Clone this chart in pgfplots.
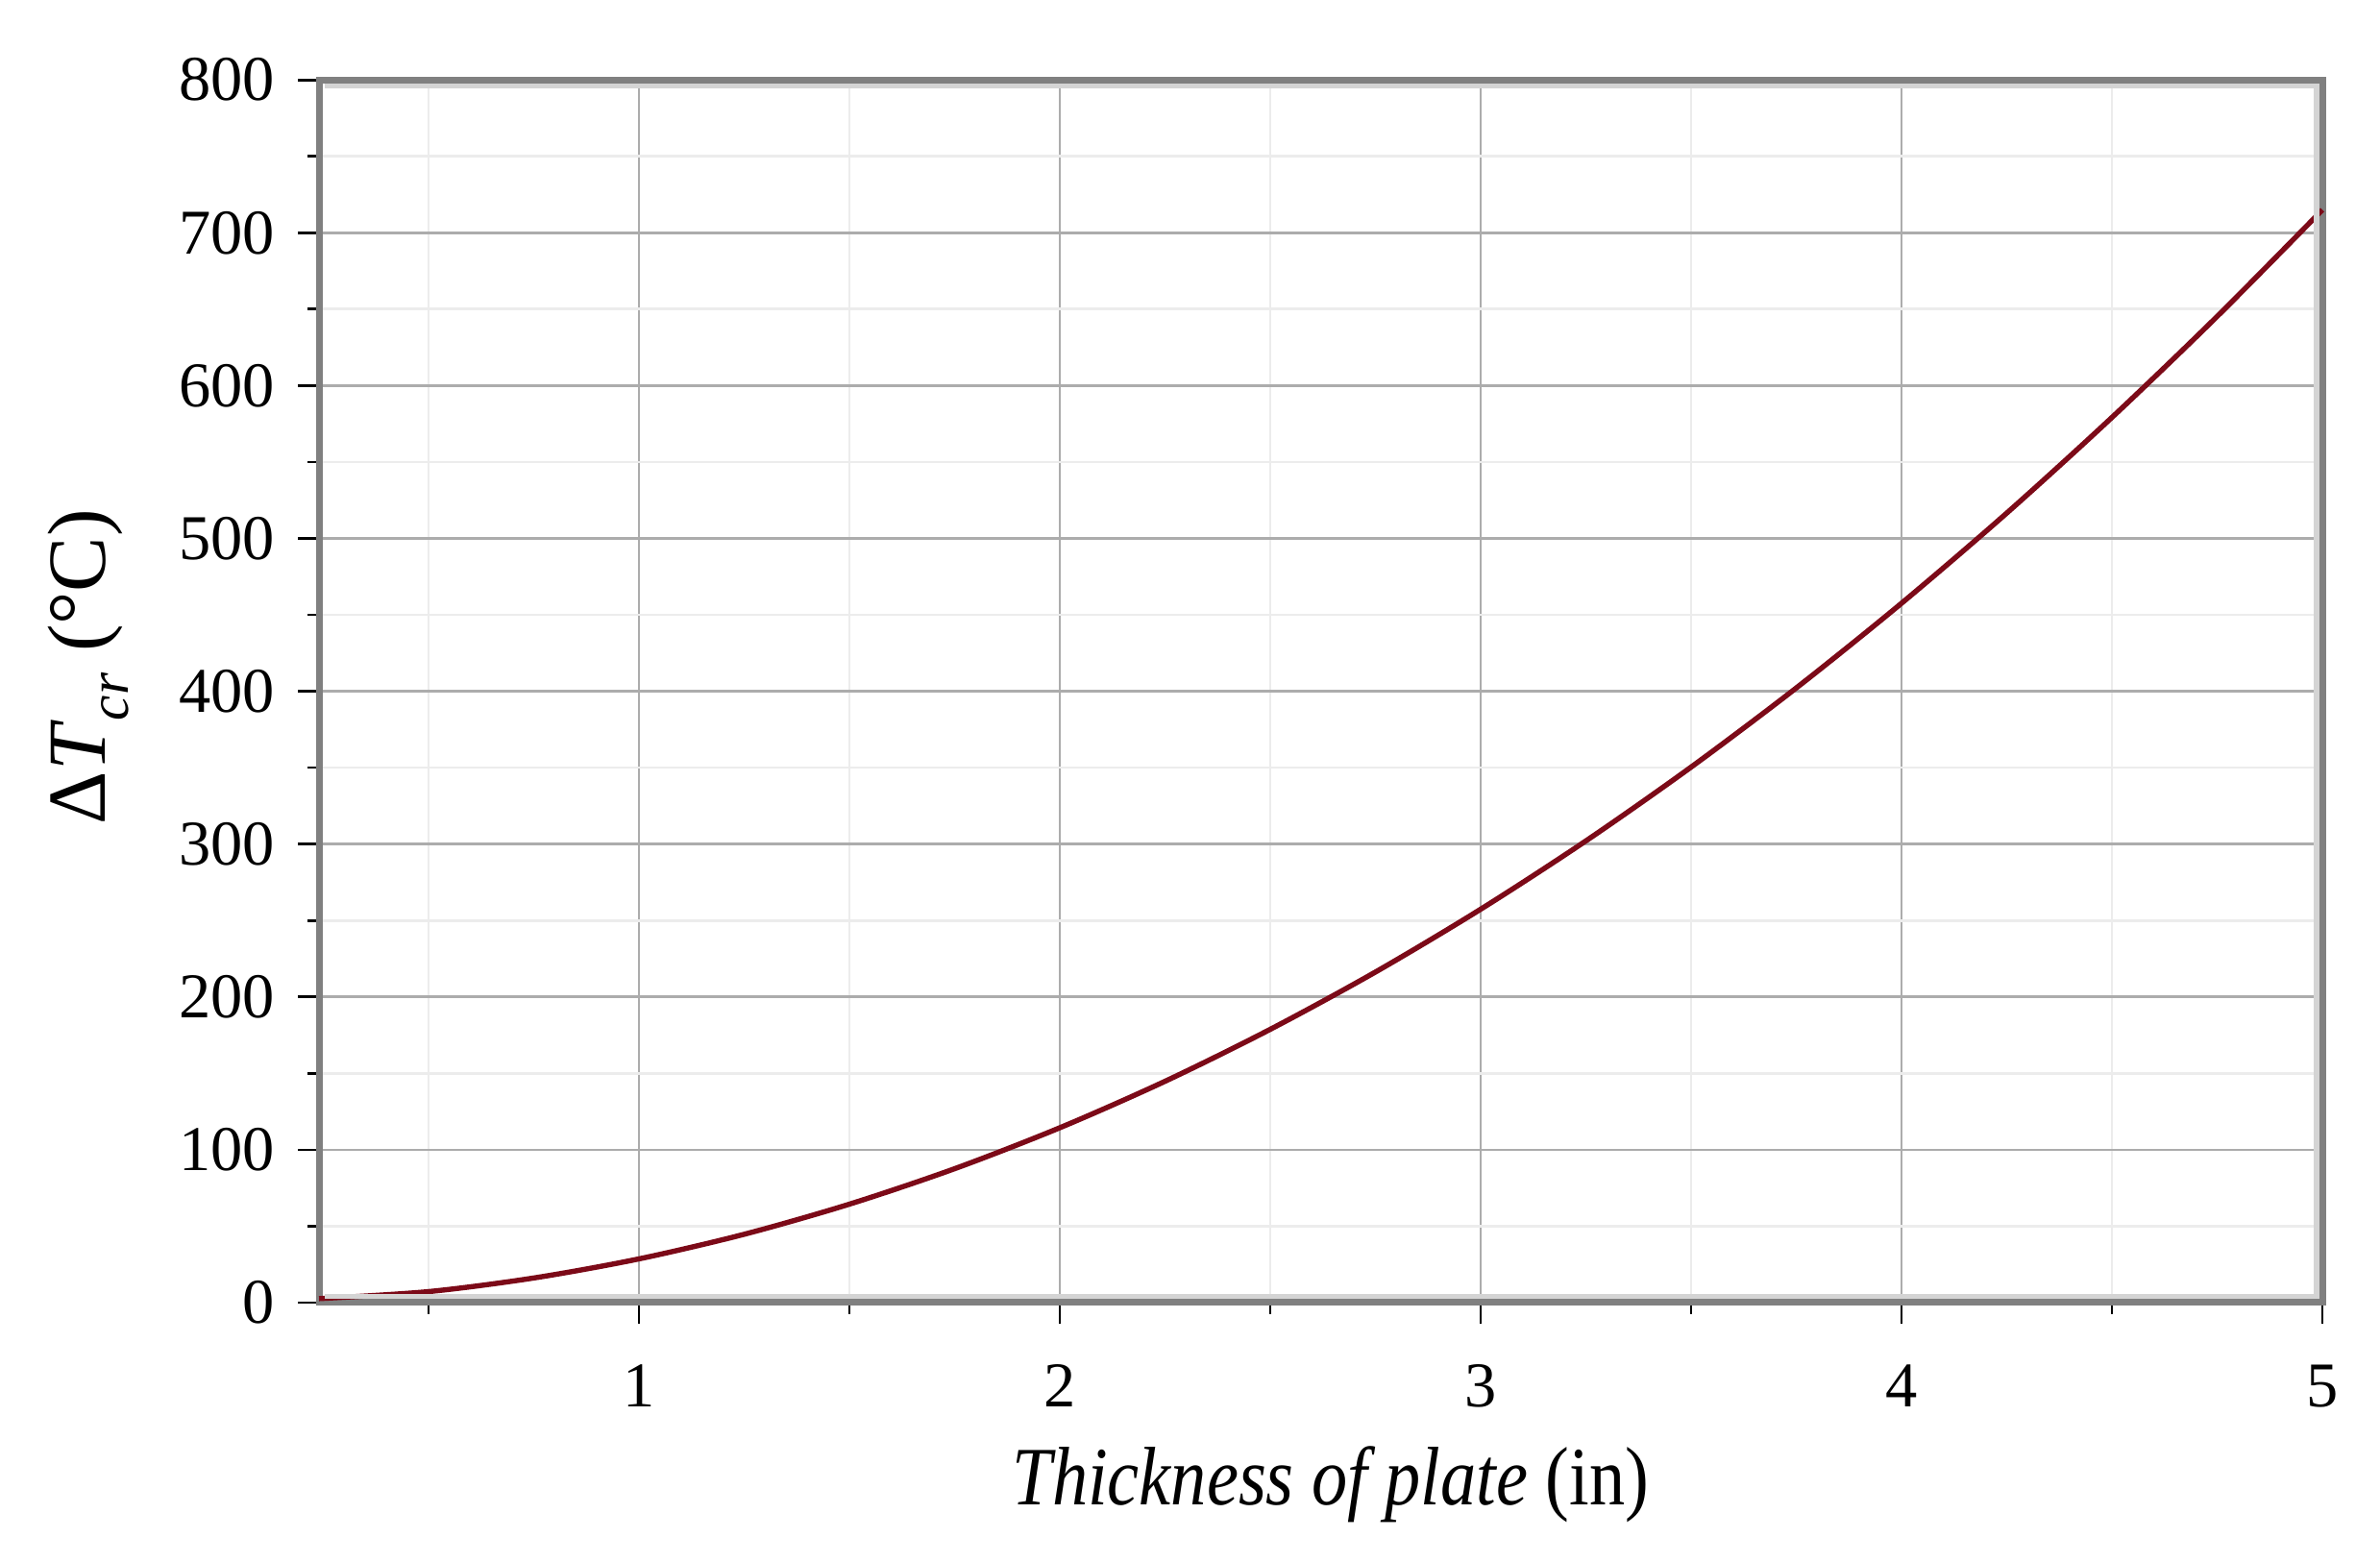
\documentclass[border=0pt]{standalone}
\usepackage{fontspec}
\setmainfont{Liberation Serif}
\newfontfamily\xlfont{Liberation Serif}[FakeStretch=0.86]
\usepackage{pgfplots}
\pgfplotsset{compat=1.18}
\definecolor{curvecol}{RGB}{124,10,24}
\definecolor{framedark}{RGB}{128,128,128}
\definecolor{framelight}{RGB}{212,212,212}
\definecolor{majgrid}{RGB}{172,172,172}
\definecolor{mingrid}{RGB}{236,236,236}
\begin{document}
\begin{tikzpicture}
\begin{axis}[
  scale only axis,
  width=386.1pt, height=235.7pt,
  xmin=0.24, xmax=5, ymin=0, ymax=800,
  xtick={1,2,3,4,5},
  minor xtick={0.5,1.5,2.5,3.5,4.5},
  ytick={0,100,200,300,400,500,600,700,800},
  minor ytick={50,150,250,350,450,550,650,750},
  grid=both,
  major grid style={draw=majgrid, line width=0.5pt},
  minor grid style={draw=mingrid, line width=0.5pt},
  tick align=outside,
  major tick length=4pt,
  minor tick length=2.2pt,
  tick style={black, line width=0.5pt},
  xtick pos=bottom, ytick pos=left,
  axis line style={draw=framedark, line width=1.3pt},
  /pgf/number format/assume math mode=true,
  ticklabel style={font=\fontsize{12.3}{14}\selectfont},
  xticklabel style={yshift=-4.5pt},
  yticklabel style={xshift=-1pt},
  xlabel={\xlfont\fontsize{16}{18}\selectfont\textit{Thickness of plate} (in)},
  xlabel style={at={(axis description cs:0.505,-0.149)}, anchor=center},
  ylabel={\fontsize{15.9}{18}\selectfont Δ\textit{T}\raisebox{-0.28em}{\fontsize{11}{12}\selectfont\textit{cr}} (°C)},
  ylabel style={at={(axis description cs:-0.115,0.52)}, anchor=center, rotate=0},
  clip=false,
]
\addplot[curvecol, line width=1pt, smooth] coordinates {
 (0.24,2.6) (0.5,7.2) (0.75,16.1) (1.0,28.6) (1.25,44.7) (1.5,64.4)
 (1.75,87.6) (2.0,114.4) (2.25,144.8) (2.5,178.8) (2.75,216.3) (3.0,257.4)
 (3.25,302.1) (3.5,350.4) (3.75,402.2) (4.0,457.6) (4.25,516.6) (4.5,579.2)
 (4.75,645.3) (5.0,715.0)
};
\draw[framelight, line width=1pt]
  ([xshift=1.1pt,yshift=1.2pt]rel axis cs:0,0) -- ([xshift=-1.1pt,yshift=1.2pt]rel axis cs:1,0)
  -- ([xshift=-1.1pt,yshift=-1.2pt]rel axis cs:1,1) -- ([xshift=1.1pt,yshift=-1.2pt]rel axis cs:0,1);
\end{axis}
\path (-61.5pt,-50pt) rectangle (397.2pt,251.1pt);
\end{tikzpicture}
\end{document}
